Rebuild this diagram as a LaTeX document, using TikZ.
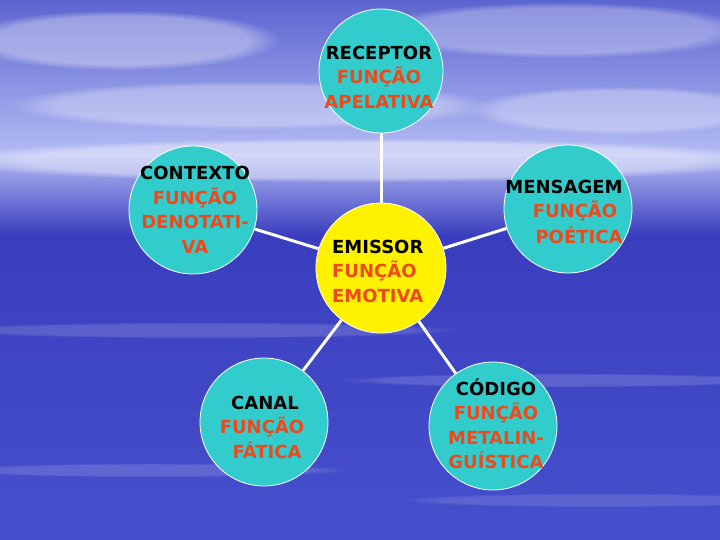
\documentclass[tikz,border=0pt]{standalone}
\usepackage{fontspec}
\setmainfont{DejaVu Sans}
\usetikzlibrary{shapes.geometric,fadings}
\definecolor{circcyan}{RGB}{51,204,204}
\definecolor{funcred}{RGB}{238,72,28}
\definecolor{skytop}{RGB}{92,100,208}
\definecolor{haze}{RGB}{180,188,244}
\definecolor{seamid}{RGB}{58,62,190}
\definecolor{seabot}{RGB}{70,80,204}
\begin{document}
\begin{tikzpicture}[x=1pt,y=-1pt,
  bubble/.style={circle,draw=white,line width=0.8pt,inner sep=0pt,fill=circcyan},
  txt/.style={font=\fontsize{18}{24.5}\selectfont\bfseries,align=center,inner sep=0pt},
  link/.style={draw=white,line width=3pt},
  cloud/.style={fill=white,path fading=circle with fuzzy edge 20 percent}]
\useasboundingbox (0,0) rectangle (720,540);
% background
\shade[top color=skytop,bottom color=haze] (0,0) rectangle (720,155);
\shade[top color=haze,bottom color=seamid] (0,155) rectangle (720,235);
\shade[top color=seamid,bottom color=seabot] (0,235) rectangle (720,540);
% clouds
\fill[cloud,opacity=0.35] (120,40) ellipse (160 and 30);
\fill[cloud,opacity=0.30] (560,30) ellipse (190 and 28);
\fill[cloud,opacity=0.30] (250,105) ellipse (240 and 24);
\fill[cloud,opacity=0.30] (620,110) ellipse (150 and 24);
\fill[cloud,opacity=0.40] (360,160) ellipse (420 and 22);
\fill[cloud,opacity=0.15] (200,330) ellipse (260 and 8);
\fill[cloud,opacity=0.15] (560,380) ellipse (220 and 7);
\fill[cloud,opacity=0.15] (150,470) ellipse (200 and 7);
\fill[cloud,opacity=0.12] (600,500) ellipse (200 and 7);
% circles
\node[bubble,minimum size=124pt] (rec) at (381,71) {};
\node[bubble,minimum size=128pt] (ctx) at (193,210) {};
\node[bubble,minimum size=130pt,fill=yellow] (emi) at (381,268) {};
\node[bubble,minimum size=128pt] (men) at (568,209) {};
\node[bubble,minimum size=128pt] (can) at (264,422) {};
\node[bubble,minimum size=128pt] (cod) at (493,426) {};
% links
\draw[link] (emi) -- (rec);
\draw[link] (emi) -- (ctx);
\draw[link] (emi) -- (men);
\draw[link] (emi) -- (can);
\draw[link] (emi) -- (cod);
% texts
\node[txt] (trec) at (379,77) {RECEPTOR\\\textcolor{funcred}{FUNÇÃO}\\\textcolor{funcred}{APELATIVA}};
\node[txt] (tctx) at (195,210) {CONTEXTO\\\textcolor{funcred}{FUNÇÃO}\\\textcolor{funcred}{DENOTATI-}\\\textcolor{funcred}{VA}};
\node[txt,align=left,anchor=west] (temi) at (332,271) {EMISSOR\\\textcolor{funcred}{FUNÇÃO}\\\textcolor{funcred}{EMOTIVA}};
\node[txt] (tmen1) at (564,187) {MENSAGEM};
\node[txt] (tmen2) at (575,211) {\textcolor{funcred}{FUNÇÃO}};
\node[txt] (tmen3) at (579,235) {\textcolor{funcred}{POÉTICA}};
\node[txt] (tcan1) at (265,403) {CANAL};
\node[txt] (tcan2) at (262,427) {\textcolor{funcred}{FUNÇÃO}};
\node[txt] (tcan3) at (267,450) {\textcolor{funcred}{FÁTICA}};
\node[txt] (tcod) at (496,424) {CÓDIGO\\\textcolor{funcred}{FUNÇÃO}\\\textcolor{funcred}{METALIN-}\\\textcolor{funcred}{GUÍSTICA}};
\end{tikzpicture}
\end{document}
